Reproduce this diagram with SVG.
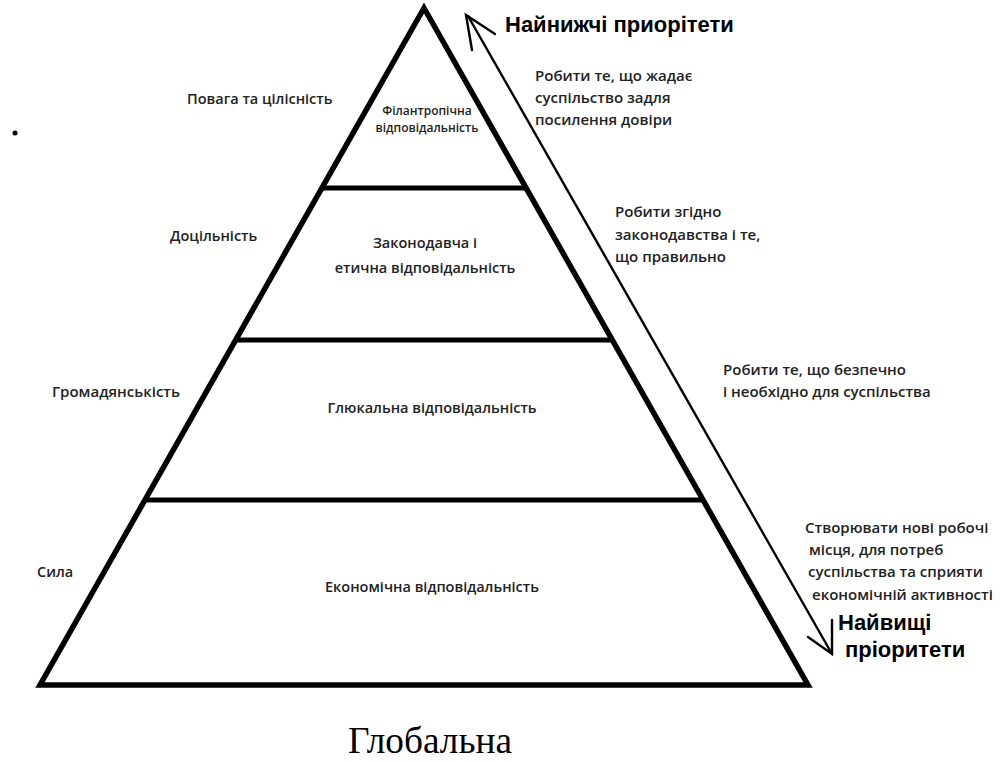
<svg xmlns="http://www.w3.org/2000/svg" width="1000" height="762" viewBox="0 0 1000 762">
<style>
.edge{fill:none;stroke:#000;stroke-width:5.5;stroke-linejoin:miter}
.bar{stroke:#000;stroke-width:5}
.arr{fill:none;stroke:#000;stroke-width:2.4;stroke-linecap:round}
.t{font-family:"Open Sans","Noto Sans",sans-serif;fill:#222;font-weight:600}
.s{font-size:14.5px}
.m{font-size:14.5px}
.r{font-size:15px}
.h{font-family:"Liberation Sans",Arial,sans-serif;font-weight:bold;fill:#000;font-size:22px}
.c{text-anchor:middle}
</style>
<rect width="1000" height="762" fill="#fff"/>
<g id="pyramid">
<polygon class="edge" points="424,8 808,685 40,685"/>
</g>
<g id="levels">
<line class="bar" x1="322" y1="188" x2="526" y2="188"/>
<line class="bar" x1="236" y1="340" x2="612" y2="340"/>
<line class="bar" x1="145" y1="500" x2="703" y2="500"/>
</g>
<g id="connectors">
<line class="arr" x1="468" y1="16" x2="832" y2="654"/>
<polyline class="arr" points="495,34 466,15 472,50"/>
<polyline class="arr" points="808,637 832,654 832,620"/>
</g>
<circle id="dot" cx="15" cy="133" r="2.5" fill="#000"/>
<g id="level-philanthropic">
<text class="t c" x="427" y="115" font-size="12">Філантропічна</text>
<text class="t c" x="427" y="132" font-size="12">відповідальність</text>
</g>
<g id="level-legal">
<text class="t c m" x="425" y="248">Законодавча і</text>
<text class="t c m" x="425" y="273">етична відповідальність</text>
</g>
<g id="level-glocal">
<text class="t c m" x="432" y="413">Глюкальна відповідальність</text>
</g>
<g id="level-economic">
<text class="t c m" x="432" y="592">Економічна відповідальність</text>
</g>
<g id="left-labels">
<text class="t s" x="187" y="104">Повага та цілісність</text>
<text class="t m" x="170" y="241">Доцільність</text>
<text class="t r" x="52" y="397">Громадянськість</text>
<text class="t m" x="37" y="577">Сила</text>
</g>
<g id="top-label">
<text class="h" x="505" y="32">Найнижчі приорітети</text>
</g>
<g id="desc-1">
<text class="t r" x="535" y="81">Робити те, що жадає</text>
<text class="t r" x="535" y="103">суспільство задля</text>
<text class="t r" x="535" y="125">посилення довіри</text>
</g>
<g id="desc-2">
<text class="t r" x="615" y="217">Робити згідно</text>
<text class="t r" x="615" y="240">законодавства і те,</text>
<text class="t r" x="615" y="262">що правильно</text>
</g>
<g id="desc-3">
<text class="t r" x="723" y="375">Робити те, що безпечно</text>
<text class="t r" x="723" y="397">і необхідно для суспільства</text>
</g>
<g id="desc-4">
<text class="t r" x="805" y="533">Створювати нові робочі</text>
<text class="t r" x="809" y="555">місця, для потреб</text>
<text class="t r" x="808" y="577">суспільства та сприяти</text>
<text class="t r" x="812" y="600">економічній активності</text>
</g>
<g id="bottom-label">
<text class="h" x="838" y="630" font-size="22.5">Найвищі</text>
<text class="h" x="845" y="657" font-size="22.5">пріоритети</text>
</g>
<text id="caption" x="348" y="753" font-family="'Liberation Serif','Times New Roman',serif" font-size="38" textLength="164" lengthAdjust="spacingAndGlyphs" fill="#000">Глобальна</text>
</svg>
